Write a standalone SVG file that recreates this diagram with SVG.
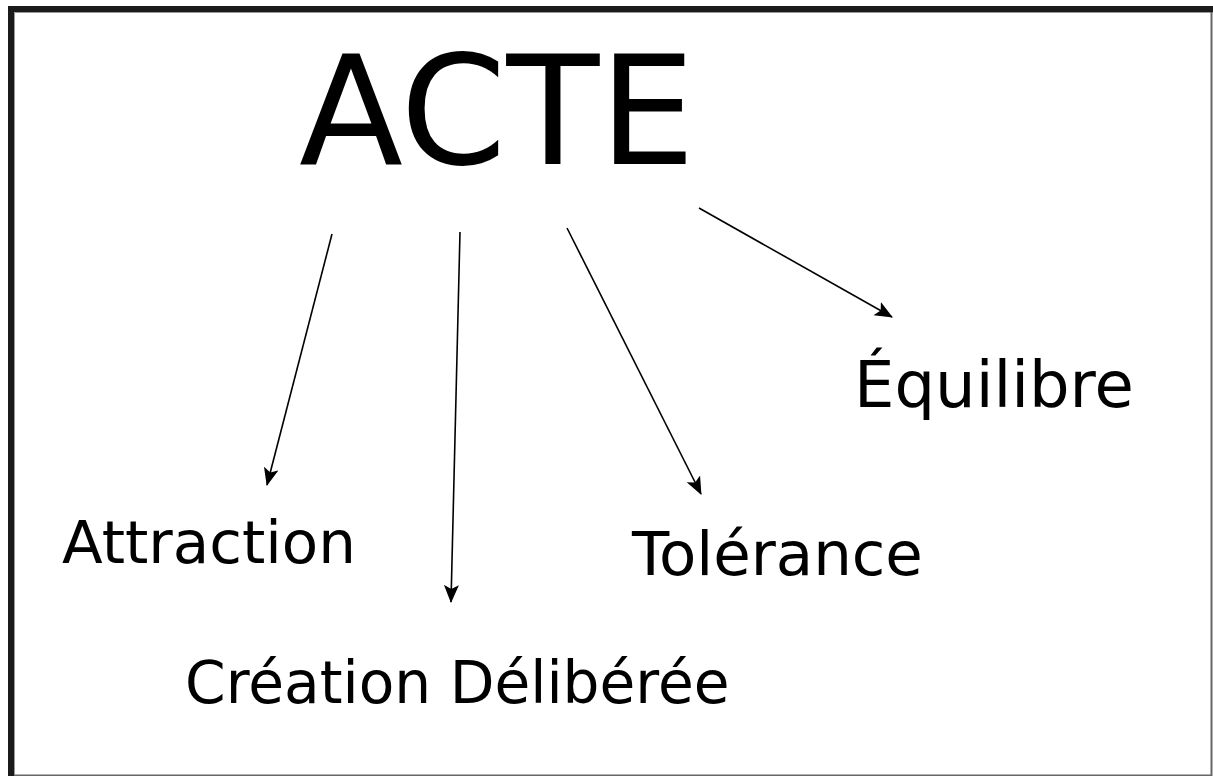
<svg xmlns="http://www.w3.org/2000/svg" width="1213" height="776" viewBox="0 0 1213 776">
<style>
.t{font-family:"DejaVu Sans","Bitstream Vera Sans",sans-serif;fill:#000}
.c{stroke:#000;stroke-width:1.6;fill:none;marker-end:url(#ah)}
</style>
<defs>
<marker id="ah" markerUnits="userSpaceOnUse" markerWidth="20" markerHeight="16" refX="17" refY="7.5" orient="auto">
<path d="M0,0 L18,7.5 L0,15 L4,7.5 Z" fill="#000"/>
</marker>
</defs>
<rect width="1213" height="776" fill="#fff"/>
<g id="frame">
<path d="M11,776 V9 H1213" fill="none" stroke="#1b1b1b" stroke-width="6"/>
<path d="M14.5,776 V12.5 H1213" fill="none" stroke="#999" stroke-width="1"/>
<path d="M1211.5,12 V775.5 H14" fill="none" stroke="#666" stroke-width="2"/>
</g>
<g id="acte"><text class="t" x="299" y="164" font-size="152">ACTE</text></g>
<g id="attraction"><text class="t" x="62" y="563" font-size="59.5">Attraction</text></g>
<g id="creation"><text class="t" x="185" y="703" font-size="58.2">Création Délibérée</text></g>
<g id="tolerance"><text class="t" x="632" y="575" font-size="61">Tolérance</text></g>
<g id="equilibre"><text class="t" x="854" y="407" font-size="64">Équilibre</text></g>
<g id="connectors">
<line class="c" x1="332" y1="234" x2="267" y2="485"/>
<line class="c" x1="460" y1="232" x2="451" y2="602"/>
<line class="c" x1="567" y1="228" x2="701" y2="494"/>
<line class="c" x1="699" y1="208" x2="892" y2="317"/>
</g>
</svg>
